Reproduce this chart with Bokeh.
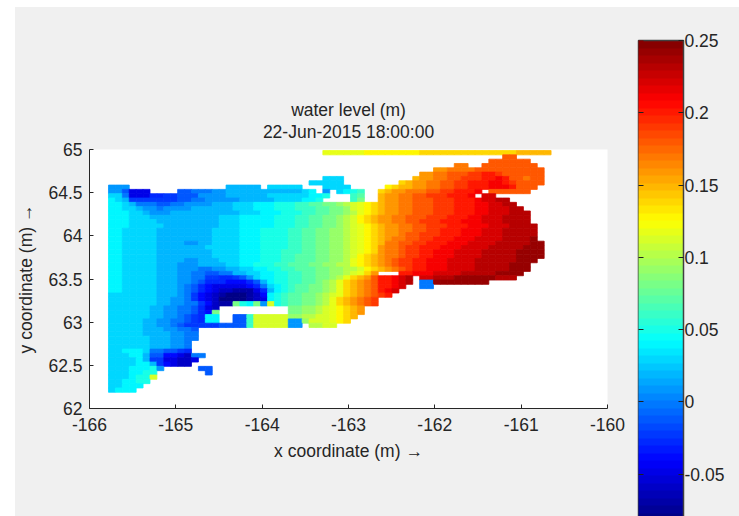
import re
from bokeh.plotting import figure
from bokeh.models import (ColumnDataSource, LinearColorMapper, FixedTicker, Range1d, Title, ColorBar)
from bokeh.transform import linear_cmap
from bokeh.embed import file_html
from bokeh.resources import INLINE

title_lines = ["water level (m)", "22-Jun-2015 18:00:00"]
x_label = "x coordinate (m) \u2192"
y_label = "y coordinate (m) \u2192"
x_ticks = [-166, -165, -164, -163, -162, -161, -160]
x_tick_labels = ["-166", "-165", "-164", "-163", "-162", "-161", "-160"]
y_ticks = [62, 62.5, 63, 63.5, 64, 64.5, 65]
y_tick_labels = ["62", "62.5", "63", "63.5", "64", "64.5", "65"]
cbar_ticks = [-0.05, 0, 0.05, 0.1, 0.15, 0.2, 0.25]
cbar_labels = ["-0.05", "0", "0.05", "0.1", "0.15", "0.2", "0.25"]
c_low, c_high = -0.082, 0.25

# Levels: each letter is one 0.01 m step from -0.08 (A) upward; "." is land.
LEVELS = "ABCDEFGHIJKLMNOPQRSTUVWXYZabcdefgh"
# Run-length coded rows, north to south: letter + number of grid columns.
water_rows = [
    ".31U6V8W14X5",
    ".57a2",
    ".55a6",
    ".50Z2.2a8",
    ".47Y2Z4a10",
    ".45Y2Z2a3b2c1c1b1a6",
    ".31L3.10X1Y2Z2a2b3c2d1c1a2Z1a2",
    ".29L5.8W1X1Y1Y1Z2a2b2c3d2c1b1a4",
    "J3.14K5.1L5.3L4.5V1W1X1X1Y2Z2a2b2c3d3c1a3",
    "J2H1D3.4H2I3J2K6K5L1M1.1J1.1L1M1N1O1.2W1X1Y1Y1Z2Z1a2b2c3d1.1a6",
    "L2I1D3F2G2H3J4K6L6M2N1.3O1P1.2X1Y1Y1Z1Z1a1a1b3c3d1.1e2",
    "M1L1K1G7H2I2J5K5L4M2N1.4O1Q1.2X1Y2Z2a3b3c3d1e2f2",
    "M2L1K1I3H2I2J4K3L3M3N3O2P2Q2R1S1T1U1V1W1X1Y2Z2a3b3c3d2e2f2",
    "M2L2K1J2I1J4K6L3M3N3O3P2Q2R1T1U1V1W1X1Y2Z2a3b3c3d2e3f2",
    "M3L2K1J3K4K6L3M3N3O2P2Q2R1S1U1V1W1X1Y2Z2a3b3c3d2e3f3",
    "M3L3K2K3K5L3M3M2N3O2P2Q2R1S1T1V1W1X1Y2Z2a3b3c3d2e3f4",
    "M3L4K2K3K4L3M3M2N3O2P2Q2R1S1T1V1W1X1Y2Z2a2b3c3d3e3f4",
    "M3L5K2K2K4L3M3M2N3O2P2Q2R1S1T1U1V1W1X1Y2Z2a2b3c3d3e3f4",
    "M2L5K3K2K3L4M3N4O2P2Q2R2S1T1U1V1W1X1Y2Z2a2b2c3d3e3f5",
    "M2L5K3K2K3L4M3N4O2P2Q2R2S1T1U1V1W1X1Y2Z1a2b3c3d3e3f5",
    "M2L5K3K2K3L4M3N4O2P2Q2R2S1T1U1V1W1X1Y1Z2a2b2c3d3e4f4g1",
    "M2L5K3K1J2K2L4M3N4O2P2Q2R2S1T1U1V1W1X1Z2a2b2c3d3e4f5g2",
    "M2L5K7L5M3N4O2P2Q2R2S1T1U1V1W1Y1Z2a1b2c3d3e4f5g3",
    "M2L5K8L4M3N3O3P2Q2R2S1T1U1V1W1Y1Z2a1b2c2d3e4f5g4",
    "M2L5K8L4M3N3O2P3Q2R2S1T1V1W1X1Y1Z2a1b2c2d3e4f5g4",
    "M2L5K4J2K3L3M3N3O2P3Q2R2S1U1V1W1X1Y1Z1a1b2c2d3e4f6g3",
    "M2L5K3J3K2K2L2M2N3O2P3Q2R2S2U1V1W1X1Y1Z1a1b2c2d3e4f5g3",
    "M2L5K3J3I2J2K2L2M2N2O2P3Q2R2S2T1V1W1X1Y1Z1a1b1c2d3e4f5g3",
    "M2L5K3J2I2H2I2K2L2M2N2O2P2Q2R2S1T1U1W1Y1.3c2d3e4f5g4",
    "M2L5K3J2I2G2F2G1H1J1L1M2N2O2P2Q2R1S1U1W1X1Y1a1c2d1e1f1.1e2f3g6f3",
    "M2L5K3J2I1H1F3E2E1F1H1K1M1N2O2P2Q1R1S1U1W1X1Y1Z1a1c2d1e1f1.1I2g8",
    "M2L5K3J1I1H1F1E1D5E1F1I1L1M1N1O1P2Q2R1S1U1W1X1Y1Z1a1c2d1e1.2I2",
    "M2L5K3J1I1H1F1E1D1C2B3D1F1K1M1N1O1P2Q2R1S1U1W1X1Y1Z1a1c1d1e1",
    "L7K3J1I1G1E1D1C1B1A3B1C1E1M1N1O1P2Q2R1S1T1U1W1X1Y1Z1a1b1c1",
    "L7K2J2I1G1E1D1C1A4B1C1D1M1N1O1P2Q2R1S1U1W1X1Y1Z1a1b1",
    "L7K2J2I2G1E1C1B2Q1N1M1Q1J1T1N1O1P2Q2R1S1U1W1X1Y1Z1a1b1",
    "L6K2J2I2H1F1D1C1.10Q2R2S1T1U1V1W1X1Y1",
    "L6K2J2I2H1F1E1Q1.10Q2R2S1T1U1V1W1X1Y1",
    "L6K2J2I1H1G1F1M2.2H2O1T5R2S2T2U1V1W1X1",
    "L5K2J2I2H1G1F1M2.2H2O1T5J2R1T3U1V1W1",
    "L5K2J2I1H1G1G4H2H2O1T5J2.1S2T2",
    "L5K2K1J2I2H1",
    "L5K2K2J2I2",
    "L6K3J2I2",
    "L6K3J2I1",
    "L6K3J2I1",
    "L2M3L1I2H2G1F1",
    "L3M2K1H2E2D1C1I2",
    "L4M1K1G2D2C2D1",
    "L4M2K1G1E1D1C2",
    "L3M3N1J1.5H2",
    "L3M2N2.7H1",
    "L3M1N2T1",
    "L2M2N2",
    "L2M3",
    "L1M3",
]


def jet(n):
    cols = []
    for i in range(n):
        t = (i + 0.5) / n
        r = min(max(min(4 * t - 1.5, -4 * t + 4.5), 0), 1)
        g = min(max(min(4 * t - 0.5, -4 * t + 3.5), 0), 1)
        b = min(max(min(4 * t + 0.5, -4 * t + 2.5), 0), 1)
        cols.append("#%02x%02x%02x" % (round(r * 255), round(g * 255), round(b * 255)))
    return cols


palette = jet(64)
DLON, DLAT = 0.0801, 0.05
LON0, LAT0 = -165.78, 64.988

left, right, top, bottom, vals = [], [], [], [], []
for j, code in enumerate(water_rows):
    i = 0
    for ch, n in re.findall(r"([A-Za-z.])(\d+)", code):
        n = int(n)
        if ch != ".":
            v = -0.08 + 0.01 * LEVELS.index(ch)
            for k in range(i, i + n):
                left.append(LON0 + k * DLON)
                right.append(LON0 + (k + 1) * DLON)
                top.append(LAT0 - j * DLAT)
                bottom.append(LAT0 - (j + 1) * DLAT)
                vals.append(v)
        i += n
src = ColumnDataSource(dict(left=left, right=right, top=top, bottom=bottom, v=vals))

TXT = "#262626"
FONT = "Liberation Sans"
FS = "17.5px"
p = figure(width=739, height=516, output_backend="svg", toolbar_location=None,
           x_range=Range1d(-166, -160), y_range=Range1d(62, 65),
           min_border_left=89, min_border_right=132, min_border_top=149, min_border_bottom=108,
           background_fill_color="white", border_fill_color=None, outline_line_color=None)
p.title = None
p.quad(left="left", right="right", top="top", bottom="bottom", source=src,
       color=linear_cmap("v", palette, c_low, c_high), line_width=0.8)
for t, st in zip(reversed(title_lines), (15, -15)):
    p.add_layout(Title(text=t, align="center", text_font=FONT, text_font_size=FS,
                       text_font_style="normal", text_color=TXT, standoff=st), "above")
p.grid.visible = False
p.xaxis.ticker = FixedTicker(ticks=x_ticks)
p.xaxis.major_label_overrides = dict(zip(x_ticks, x_tick_labels))
p.yaxis.ticker = FixedTicker(ticks=y_ticks)
p.yaxis.major_label_overrides = dict(zip(y_ticks, y_tick_labels))
p.xaxis.axis_label = x_label
p.yaxis.axis_label = y_label
for ax in (p.xaxis[0], p.yaxis[0]):
    ax.major_tick_in = 4
    ax.major_tick_out = 0
    ax.minor_tick_line_color = None
    ax.axis_line_color = "#262626"
    ax.major_tick_line_color = "#262626"
    ax.major_label_text_font = FONT
    ax.major_label_text_font_size = FS
    ax.major_label_text_color = TXT
    ax.major_label_standoff = 7
    ax.axis_label_text_font = FONT
    ax.axis_label_text_font_size = FS
    ax.axis_label_text_font_style = "normal"
    ax.axis_label_text_color = TXT
p.xaxis[0].major_label_standoff = 9
p.xaxis[0].axis_label_standoff = 7
p.yaxis[0].axis_label_standoff = 9
p.yaxis[0].major_label_orientation = "horizontal"

mapper = LinearColorMapper(palette=palette, low=c_low, high=c_high)
cbar = ColorBar(color_mapper=mapper, ticker=FixedTicker(ticks=cbar_ticks),
                major_label_overrides=dict(zip(cbar_ticks, cbar_labels)),
                location=(549, -112), width=45, height=480, padding=0, margin=0,
                background_fill_color=None,
                major_tick_in=5, major_tick_line_color="#202020", minor_tick_line_color=None,
                bar_line_color="#404040", bar_line_width=1.5,
                label_standoff=1, major_label_text_font=FONT, major_label_text_font_size=FS,
                major_label_text_color=TXT)
p.add_layout(cbar, "center")

# A narrow unlabelled copy of the bar supplies the ticks on its left edge.
cbar_left = ColorBar(color_mapper=mapper, ticker=FixedTicker(ticks=cbar_ticks[:-1]),
                     major_label_overrides={v: "" for v in cbar_ticks[:-1]},
                     location=(549, -112), width=5, height=480, padding=0, margin=0,
                     background_fill_color=None,
                     major_tick_in=5, major_tick_line_color="#202020", minor_tick_line_color=None,
                     bar_line_color=None)
p.add_layout(cbar_left, "center")

css = ("<style>html{overflow:hidden;background:"
       "linear-gradient(#fff,#fff) 0 0/100% 7px no-repeat,"
       "linear-gradient(#fff,#fff) 0 0/15px 100% no-repeat,#f0f0f0}"
       "body{background:transparent;overflow:hidden}</style>")
html = file_html(p, INLINE).replace("</head>", css + "</head>", 1)
open("out.html", "w").write(html)
